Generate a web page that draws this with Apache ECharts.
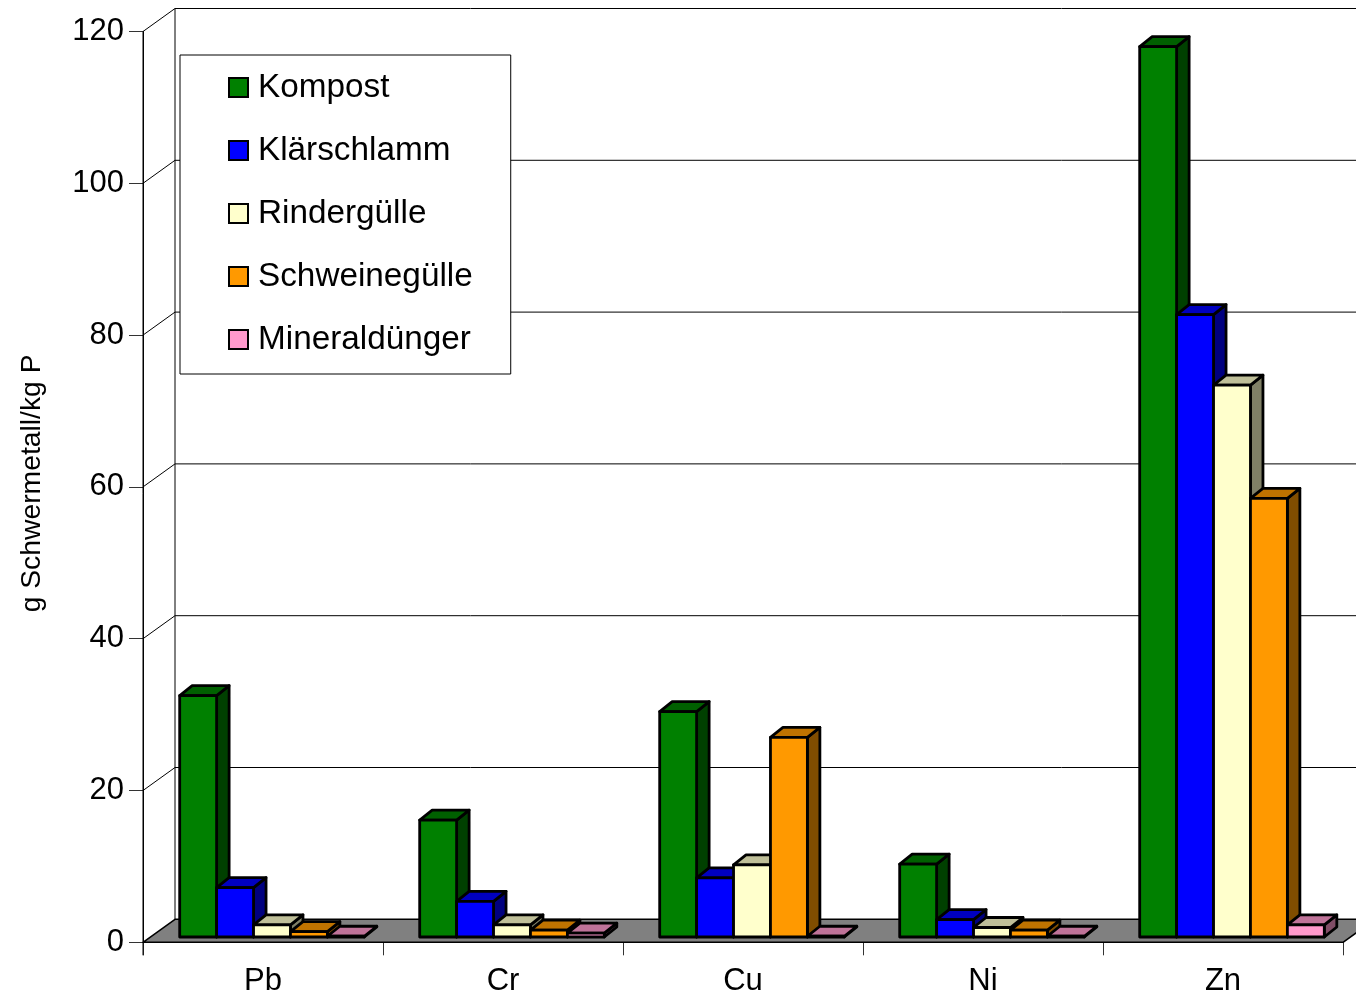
<!DOCTYPE html>
<html>
<head>
<meta charset="utf-8">
<title>Schwermetalle</title>
<style>html,body{margin:0;padding:0;background:#fff}#chart{width:1356px;height:996px}</style>
<script src="https://cdn.jsdelivr.net/npm/echarts@6/dist/echarts.min.js"></script>
</head>
<body>
<div id="chart"></div>
<script>
// Schwermetallfracht je kg Phosphor, nach Düngerart
const metals = ['Pb', 'Cr', 'Cu', 'Ni', 'Zn'];
const yTicks = [0, 20, 40, 60, 80, 100, 120];
const kompost = [31.8, 15.4, 29.7, 9.6, 117.3];
const klaerschlamm = [6.5, 4.7, 7.8, 2.3, 82];
const rinderguelle = [1.6, 1.6, 9.5, 1.25, 72.7];
const schweineguelle = [0.7, 0.9, 26.3, 0.9, 57.8];
const mineralduenger = [0.1, 0.5, 0.1, 0.1, 1.6];

const seriesNames = ['Kompost', 'Klärschlamm', 'Rindergülle', 'Schweinegülle', 'Mineraldünger'];
const seriesValues = [kompost, klaerschlamm, rinderguelle, schweineguelle, mineralduenger];
const faceColors = [
  { front: '#008000', top: '#006000', side: '#004000' },
  { front: '#0000ff', top: '#0000c0', side: '#000080' },
  { front: '#ffffcc', top: '#bfbf99', side: '#808066' },
  { front: '#ff9900', top: '#bf7300', side: '#804d00' },
  { front: '#ff99cc', top: '#bf7399', side: '#804d66' }
];

// Pseudo-3D projection: depth of the chart box and of each bar, in pixels
const boxDepth = { x: 32, y: -23 };
const barDepth = { x: 12.5, y: -10 };
const barInset = { x: 9, y: -5.3 };
const gapRatio = 1.5;
const fontFamily = '"Liberation Sans", Arial, sans-serif';

function poly(points, fill, stroke, width) {
  return {
    type: 'polygon',
    shape: { points },
    style: { fill, stroke, lineWidth: width, lineJoin: 'round' }
  };
}

// Floor, back wall and the grid lines folded over the left wall
function renderFrame(params, api) {
  const tick = api.value(0);
  const cs = params.coordSys;
  const y = api.coord([0, tick])[1];
  const x0 = cs.x, x1 = cs.x + cs.width;
  const bx = x0 + boxDepth.x, by = y + boxDepth.y;
  const children = [];
  if (tick === 0) {
    children.push(poly([[x0, y], [bx, by], [x1 + boxDepth.x, by], [x1, y]], '#808080', '#000', 1.5));
    children.push({ type: 'line', shape: { x1: x0, y1: cs.y, x2: x0, y2: y + 13 }, style: { stroke: '#000', lineWidth: 1 } });
    children.push({ type: 'line', shape: { x1: bx, y1: cs.y + boxDepth.y, x2: bx, y2: by }, style: { stroke: '#000', lineWidth: 1 } });
  } else {
    children.push({
      type: 'polyline',
      shape: { points: [[x0, y], [bx, by], [x1 + boxDepth.x, by]] },
      style: { fill: 'none', stroke: '#000', lineWidth: 1 }
    });
  }
  return { type: 'group', children };
}

// One bar: front face, lid and right side, placed by its series slot in the category
function renderBar(params, api) {
  const si = params.seriesIndex - 1;
  const colors = faceColors[si];
  const catW = api.size([1, 0])[0];
  const w = catW / (seriesNames.length + gapRatio);
  const mid = api.coord([api.value(0), 0]);
  const topPt = api.coord([api.value(0), api.value(1)]);
  const l = mid[0] - (seriesNames.length / 2) * w + si * w + barInset.x;
  const r = l + w;
  const b = mid[1] + barInset.y;
  const t = topPt[1] + barInset.y;
  const dx = barDepth.x, dy = barDepth.y;
  return {
    type: 'group',
    children: [
      poly([[r, b], [r + dx, b + dy], [r + dx, t + dy], [r, t]], colors.side, '#000', 2.8),
      poly([[l, t], [l + dx, t + dy], [r + dx, t + dy], [r, t]], colors.top, '#000', 2.8),
      poly([[l, b], [l, t], [r, t], [r, b]], colors.front, '#000', 2.8)
    ]
  };
}

const chart = echarts.init(document.getElementById('chart'), null, { renderer: 'canvas' });
chart.setOption({
  animation: false,
  backgroundColor: '#fff',
  textStyle: { fontFamily },
  grid: { left: 143, top: 31.5, width: 1200, height: 910.8, outerBoundsMode: 'none' },
  legend: {
    orient: 'vertical',
    left: 180,
    top: 55,
    data: seriesNames,
    icon: 'rect',
    itemWidth: 19,
    itemHeight: 19,
    itemGap: 30,
    padding: [16, 38, 18, 48],
    backgroundColor: '#fff',
    borderColor: '#000',
    borderWidth: 1,
    textStyle: { fontSize: 33.3, color: '#000', fontFamily, padding: [0, 0, 7, 5] }
  },
  xAxis: {
    type: 'category',
    data: metals,
    axisLine: { show: true, lineStyle: { color: '#000' } },
    axisTick: { show: true, length: 13, lineStyle: { color: '#333' } },
    axisLabel: { fontSize: 31, color: '#000', margin: 24, fontFamily },
    splitLine: { show: false }
  },
  yAxis: {
    type: 'value',
    min: 0,
    max: 120,
    interval: 20,
    name: 'g Schwermetall/kg P',
    nameLocation: 'middle',
    nameGap: 97,
    nameTextStyle: { fontSize: 28.3, color: '#000', fontFamily, padding: [0, 0, 0, 7] },
    axisLine: { show: true, lineStyle: { color: '#000' } },
    axisTick: { show: true, length: 14, lineStyle: { color: '#333' } },
    axisLabel: { fontSize: 31, color: '#000', margin: 19, fontFamily, padding: [0, 0, 9, 0] },
    splitLine: { show: false }
  },
  series: [
    {
      name: 'Rahmen',
      type: 'custom',
      renderItem: renderFrame,
      data: yTicks.map(t => [t]),
      encode: { y: 0 },
      silent: true,
      z: 1
    },
    ...seriesNames.map((name, i) => ({
      name,
      type: 'custom',
      renderItem: renderBar,
      itemStyle: { color: faceColors[i].front, borderColor: '#000', borderWidth: 2 },
      data: seriesValues[i].map((v, c) => [c, v]),
      encode: { x: 0, y: 1 },
      z: 3
    }))
  ]
});
</script>
</body>
</html>
